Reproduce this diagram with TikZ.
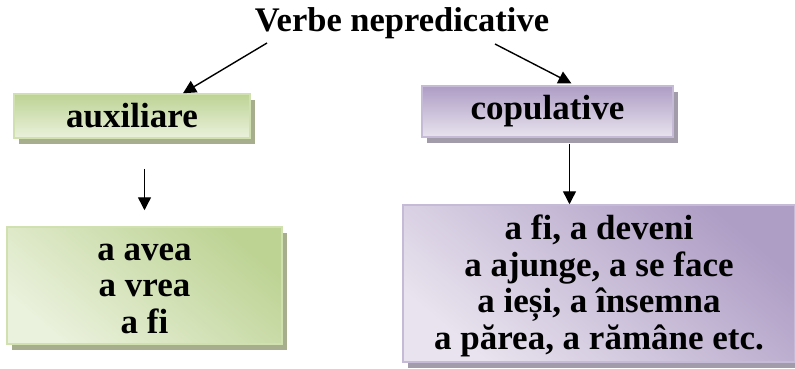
\documentclass[tikz,border=0pt]{standalone}
\usepackage{fontspec}
\setmainfont{Liberation Serif}
\usetikzlibrary{arrows.meta,shadows}

\definecolor{grdark}{HTML}{BDD394}
\definecolor{grlight}{HTML}{EAF1DC}
\definecolor{grborder}{HTML}{D0E0AE}
\definecolor{grshadow}{HTML}{A6AE8E}
\definecolor{pudark}{HTML}{AE9DC5}
\definecolor{pulight}{HTML}{E8E3EE}
\definecolor{puborder}{HTML}{C6BBD7}
\definecolor{pushadow}{HTML}{A29CAA}

\newcommand{\toprule}{\rule{0pt}{30pt}}
\newcommand{\botrule}{\rule[-8pt]{0pt}{8pt}}

\tikzset{
  txt/.style={font=\fontsize{35}{36.5}\selectfont\bfseries, align=center, inner sep=0pt},
  greenbox/.style={txt, draw=grborder, line width=1.5pt, top color=grdark, bottom color=grlight,
    drop shadow={shadow xshift=5pt, shadow yshift=-6pt, fill=grshadow, opacity=1}},
  purplebox/.style={txt, draw=puborder, line width=1.5pt, top color=pudark, bottom color=pulight,
    drop shadow={shadow xshift=5pt, shadow yshift=-6pt, fill=pushadow, opacity=1}},
  arr/.style={-{Triangle[length=13pt,width=13pt]}, line width=1.4pt}
}

\begin{document}
\begin{tikzpicture}[x=1pt,y=-1pt]
\useasboundingbox (0,0) rectangle (795,368);

% Title
\node[txt, font=\fontsize{34.5}{36}\selectfont\bfseries, anchor=base] (title) at (402,31) {Verbe nepredicative};

% Boxes
\node[greenbox, minimum width=236pt, minimum height=44pt] (aux) at (132,116) {auxiliare};
\node[purplebox, minimum width=251pt, minimum height=51pt] (cop) at (547.5,111.5) {copulative};
\node[greenbox, minimum width=275pt, minimum height=117pt, shading angle=-40] (avea) at (144.5,285.5)
  {\toprule a avea\\a vrea\\a fi\botrule};
\node[purplebox, minimum width=392pt, minimum height=157pt, shading angle=-40] (fi) at (599,283.5)
  {\toprule a fi, a deveni\\a ajunge, a se face\\a ieși, a însemna\\a părea, a rămâne etc.\botrule};

% Arrows
\coordinate (tl) at (267,43);
\coordinate (tr) at (495,44);
\draw[arr] (tl) -- ([xshift=51pt]aux.north);
\draw[arr, shorten >=4pt] (tr) -- ([xshift=27.5pt]cop.north);
\draw[arr, shorten <=30pt, shorten >=16pt] (aux.south -| avea.north) -- (avea.north);
\draw[arr, shorten <=6pt] ([xshift=22pt]cop.south) -- ([xshift=22pt]cop.south |- fi.north);
\end{tikzpicture}
\end{document}
